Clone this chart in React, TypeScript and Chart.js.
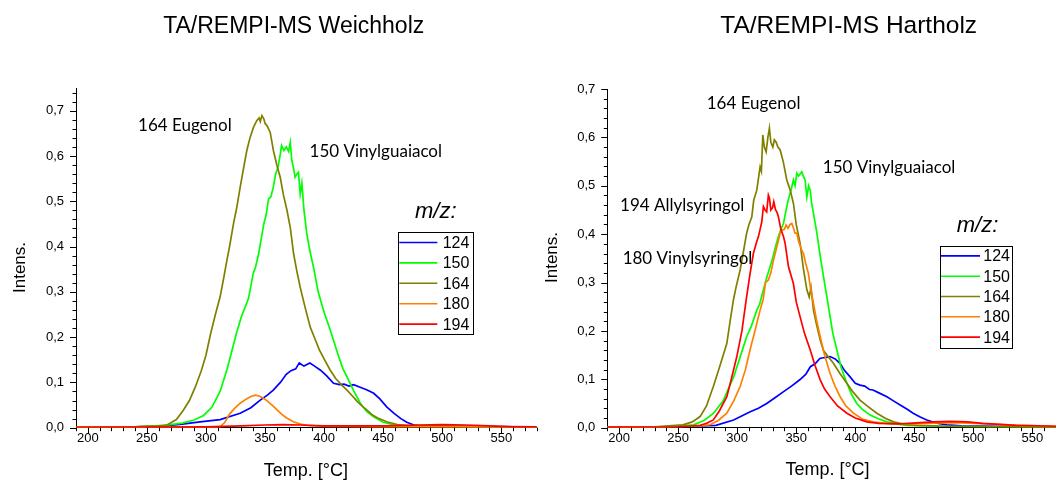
import React, { useEffect, useRef } from "react";
import { Chart, registerables } from "chart.js";

Chart.register(...registerables);

const SANS = "'Liberation Sans', Arial, Helvetica, sans-serif";
const ANN_FONT = "Lato, 'Open Sans', sans-serif";

// ---------- shared ----------
const massLabels = ["124", "150", "164", "180", "194"];
const seriesColors = ["#0000FF", "#00FF00", "#808000", "#FF8000", "#FF0000"];
const xTickLabels = [200, 250, 300, 350, 400, 450, 500, 550];
const yTickValues = [0, 0.1, 0.2, 0.3, 0.4, 0.5, 0.6, 0.7];

// ---------- Weichholz (softwood) ----------
const soft124T = [190, 240, 265, 280, 295, 312, 329, 338, 346, 352, 357, 363, 368, 372, 376, 379, 383, 388, 392, 397, 402, 408, 413, 417, 421, 425, 430, 436, 442, 447, 453, 459, 465, 470, 476, 485, 520, 580];
const soft124V = [0.001, 0.002, 0.004, 0.008, 0.013, 0.018, 0.032, 0.044, 0.061, 0.072, 0.083, 0.1, 0.118, 0.126, 0.13, 0.143, 0.136, 0.143, 0.136, 0.127, 0.115, 0.098, 0.095, 0.096, 0.092, 0.095, 0.09, 0.084, 0.076, 0.064, 0.046, 0.032, 0.02, 0.012, 0.006, 0.003, 0.003, 0.002];

const soft150T = [190, 240, 265, 280, 290, 298, 305, 312, 318, 322, 326, 330, 333, 336, 340, 342, 344.6, 347, 349, 351, 353, 355, 357, 359, 361, 363, 364, 366, 368, 370, 371.4, 372.7, 374, 375.5, 377, 378.3, 379.8, 381.2, 383, 385.4, 388, 391, 395, 400, 404, 408, 412, 416, 419.4, 425, 430.7, 436, 442, 450, 460, 475, 500, 540, 580];
const soft150V = [0.001, 0.002, 0.005, 0.01, 0.017, 0.027, 0.045, 0.08, 0.13, 0.17, 0.21, 0.245, 0.265, 0.285, 0.34, 0.355, 0.384, 0.42, 0.45, 0.47, 0.505, 0.51, 0.531, 0.56, 0.575, 0.605, 0.623, 0.612, 0.62, 0.61, 0.63, 0.59, 0.575, 0.553, 0.56, 0.564, 0.516, 0.54, 0.48, 0.428, 0.39, 0.355, 0.3, 0.255, 0.225, 0.193, 0.16, 0.13, 0.112, 0.082, 0.054, 0.036, 0.024, 0.012, 0.006, 0.004, 0.004, 0.002, 0.001];

const soft164T = [190, 240, 260, 267, 275, 281, 286, 291, 296, 300, 304, 308, 312, 315, 317.7, 320, 323.3, 326, 329, 332, 334.6, 337.4, 340.2, 343, 345, 346, 347.4, 349, 350, 351.6, 353, 354.4, 357.2, 360, 362.9, 365.5, 368.6, 371.5, 374.2, 377, 379.8, 384, 388.3, 392, 396, 400, 405, 410, 415, 419.4, 424, 428, 432, 436.4, 441, 445, 453, 462, 470, 490, 530, 580];
const soft164V = [0.001, 0.002, 0.004, 0.006, 0.018, 0.039, 0.06, 0.09, 0.125, 0.16, 0.208, 0.25, 0.289, 0.33, 0.369, 0.4, 0.45, 0.485, 0.531, 0.575, 0.612, 0.641, 0.663, 0.678, 0.684, 0.676, 0.689, 0.682, 0.672, 0.667, 0.66, 0.652, 0.611, 0.58, 0.553, 0.515, 0.48, 0.44, 0.384, 0.345, 0.31, 0.265, 0.222, 0.198, 0.172, 0.152, 0.128, 0.108, 0.094, 0.083, 0.07, 0.058, 0.048, 0.039, 0.028, 0.022, 0.013, 0.007, 0.004, 0.003, 0.002, 0.001];

const soft180T = [190, 300, 312, 316, 320, 324, 329, 334, 338, 341.7, 345, 348, 351, 356, 360, 364, 368, 374, 380, 386, 400, 450, 580];
const soft180V = [0.001, 0.001, 0.002, 0.012, 0.03, 0.042, 0.054, 0.063, 0.069, 0.072, 0.07, 0.066, 0.061, 0.05, 0.04, 0.03, 0.022, 0.013, 0.008, 0.005, 0.003, 0.002, 0.002];

const soft194T = [190, 300, 330, 350, 365, 380, 400, 450, 480, 500, 520, 540, 560, 580];
const soft194V = [0.001, 0.002, 0.004, 0.006, 0.007, 0.006, 0.004, 0.004, 0.006, 0.007, 0.006, 0.004, 0.002, 0.002];

// ---------- Hartholz (hardwood) ----------
const hard124T = [190, 240, 263, 282, 297, 311, 318, 325, 332, 339, 346, 353, 358, 362, 366, 370, 374, 378.7, 383, 387, 391, 395.6, 400, 404, 408, 412, 415, 420, 426.8, 432, 438, 444, 449, 455, 460.6, 468, 477.6, 490, 520, 570];
const hard124V = [0.001, 0.002, 0.003, 0.005, 0.016, 0.033, 0.04, 0.05, 0.062, 0.074, 0.086, 0.099, 0.11, 0.126, 0.132, 0.143, 0.145, 0.147, 0.142, 0.133, 0.118, 0.105, 0.092, 0.088, 0.086, 0.079, 0.078, 0.072, 0.064, 0.056, 0.047, 0.038, 0.03, 0.022, 0.016, 0.01, 0.006, 0.004, 0.003, 0.002];

const hard150T = [190, 240, 263, 272, 280, 288, 297, 303, 308, 312, 316.6, 319, 322.2, 325, 327.9, 330, 332, 334.9, 337, 339.2, 341, 343, 344.8, 346, 347.6, 349, 350.5, 352, 354.7, 356, 357.5, 359, 360.5, 361.8, 363, 364.6, 367.5, 370, 373.1, 376, 378.7, 381, 384.4, 388, 392.9, 397, 401.3, 406, 412.6, 420, 426.7, 435, 443, 470, 520, 570];
const hard150V = [0.001, 0.002, 0.006, 0.015, 0.03, 0.055, 0.105, 0.15, 0.188, 0.21, 0.243, 0.255, 0.285, 0.31, 0.333, 0.35, 0.37, 0.395, 0.41, 0.422, 0.445, 0.468, 0.484, 0.495, 0.512, 0.5, 0.526, 0.52, 0.529, 0.52, 0.512, 0.477, 0.5, 0.491, 0.465, 0.443, 0.402, 0.36, 0.312, 0.27, 0.229, 0.195, 0.161, 0.125, 0.092, 0.068, 0.05, 0.038, 0.026, 0.018, 0.012, 0.008, 0.005, 0.003, 0.002, 0.001];

const hard164T = [190, 230, 254, 262, 268.6, 274, 279.8, 285, 291.2, 294, 296.8, 299, 302.5, 305, 308, 310, 312.4, 314, 316.6, 319.4, 320.5, 321.7, 323, 324.5, 326, 327.3, 328.5, 330.2, 331.5, 333, 334.5, 336.4, 339, 342, 345, 347.6, 350, 353.3, 356, 359, 361, 362.5, 364.6, 367, 370.3, 373, 376, 381.5, 387, 392.9, 398, 404, 410, 418.3, 425, 432.4, 442, 452, 480, 520, 570];
const hard164V = [0.001, 0.002, 0.006, 0.012, 0.023, 0.045, 0.085, 0.125, 0.174, 0.22, 0.264, 0.29, 0.326, 0.36, 0.402, 0.42, 0.436, 0.47, 0.491, 0.539, 0.53, 0.605, 0.58, 0.57, 0.6, 0.619, 0.59, 0.58, 0.595, 0.59, 0.58, 0.574, 0.55, 0.512, 0.49, 0.464, 0.42, 0.381, 0.33, 0.285, 0.27, 0.29, 0.243, 0.215, 0.181, 0.16, 0.15, 0.133, 0.112, 0.092, 0.074, 0.057, 0.045, 0.03, 0.02, 0.012, 0.007, 0.005, 0.003, 0.002, 0.001];

const hard180T = [190, 250, 270, 277, 284, 291.2, 297, 302.5, 307, 310.9, 315, 319.4, 322, 324, 326.4, 328.5, 330.7, 333.6, 336.4, 337.8, 340, 341.4, 343, 344.8, 346.3, 348, 349, 350.5, 352, 354.7, 356.1, 358, 360.3, 362, 364.6, 367, 370.3, 374, 378.7, 383, 387.2, 392, 398.5, 406, 415, 430, 450, 470, 490, 510, 540, 570];
const hard180V = [0.001, 0.002, 0.004, 0.006, 0.015, 0.03, 0.055, 0.085, 0.12, 0.161, 0.2, 0.243, 0.265, 0.3, 0.305, 0.32, 0.346, 0.374, 0.402, 0.408, 0.41, 0.419, 0.412, 0.42, 0.422, 0.41, 0.402, 0.402, 0.385, 0.367, 0.36, 0.34, 0.319, 0.29, 0.257, 0.225, 0.188, 0.15, 0.112, 0.085, 0.064, 0.045, 0.03, 0.018, 0.012, 0.008, 0.008, 0.01, 0.01, 0.008, 0.005, 0.003];

const hard194T = [190, 250, 268.6, 274, 279.8, 285, 291.2, 295, 299.7, 304, 308, 311, 313.7, 316, 318, 319.4, 320.8, 322.2, 323.6, 325, 326.4, 327.3, 328.5, 330, 331, 332.5, 333.6, 334.9, 337, 339.2, 340.6, 343.4, 347.6, 350, 353.3, 357, 361.8, 366, 370.3, 374, 378.7, 385, 392.9, 400, 409.8, 420, 438, 452, 466, 480, 495, 508, 522, 536, 555, 570];
const hard194V = [0.001, 0.002, 0.005, 0.009, 0.016, 0.035, 0.064, 0.1, 0.147, 0.2, 0.271, 0.32, 0.36, 0.38, 0.395, 0.41, 0.425, 0.457, 0.45, 0.446, 0.481, 0.475, 0.45, 0.455, 0.467, 0.45, 0.446, 0.436, 0.41, 0.395, 0.381, 0.333, 0.298, 0.26, 0.229, 0.195, 0.161, 0.128, 0.099, 0.08, 0.064, 0.045, 0.03, 0.02, 0.012, 0.009, 0.008, 0.01, 0.012, 0.013, 0.012, 0.009, 0.007, 0.005, 0.004, 0.003];

// annotation labels: [text, temperature, intensity] (left baseline anchor)
const softAnnotations: [string, number, number][] = [
  ["164 Eugenol", 242.5, 0.656],
  ["150 Vinylguaiacol", 387.7, 0.598],
];
const hardAnnotations: [string, number, number][] = [
  ["164 Eugenol", 274.2, 0.658],
  ["150 Vinylguaiacol", 372.5, 0.5256],
  ["194 Allylsyringol", 200.8, 0.448],
  ["180 Vinylsyringol", 203, 0.338],
];

type Panel = {
  left: number;
  width: number;
  title: string;
  titleX: number;
  titleSize: number;
  yLabelX: number;
  yLabelY: number;
  xLabelX: number;
  xLabelY: number;
  xMin: number;
  xMax: number;
  yMax: number;
  padTop: number;
  padRight: number;
  yAxisW: number;
  xAxisH: number;
  legendBox: [number, number, number, number];
  legendLine: [number, number];
  legendTextX: number;
  mzX: number;
  mzY: number;
  series: [number[], number[]][];
  annotations: [string, number, number][];
};

const panels: Panel[] = [
  {
    left: 0,
    width: 540,
    title: "TA/REMPI-MS Weichholz",
    titleX: 293.7,
    titleSize: 23,
    yLabelX: 20,
    yLabelY: 267.5,
    xLabelX: 305.8,
    xLabelY: 476,
    xMin: 190,
    xMax: 580,
    yMax: 0.75,
    padTop: 88,
    padRight: 3.3,
    yAxisW: 76,
    xAxisH: 52.3,
    legendBox: [397.7, 232.3, 74.6, 102],
    legendLine: [399.3, 437.3],
    legendTextX: 442.7,
    mzX: 415,
    mzY: 218,
    series: [
      [soft124T, soft124V],
      [soft150T, soft150V],
      [soft164T, soft164V],
      [soft180T, soft180V],
      [soft194T, soft194V],
    ],
    annotations: softAnnotations,
  },
  {
    left: 540,
    width: 516,
    title: "TA/REMPI-MS Hartholz",
    titleX: 308.7,
    titleSize: 24.5,
    yLabelX: 12,
    yLabelY: 257.5,
    xLabelX: 287.5,
    xLabelY: 475,
    xMin: 190,
    xMax: 570,
    yMax: 0.7,
    padTop: 89,
    padRight: 0,
    yAxisW: 67.3,
    xAxisH: 52.3,
    legendBox: [400, 245.7, 72.3, 101.6],
    legendLine: [401, 440],
    legendTextX: 443.3,
    mzX: 416.7,
    mzY: 231.7,
    series: [
      [hard124T, hard124V],
      [hard150T, hard150V],
      [hard164T, hard164V],
      [hard180T, hard180V],
      [hard194T, hard194V],
    ],
    annotations: hardAnnotations,
  },
];

function makeDecoPlugin(p: Panel) {
  return {
    id: "deco",
    afterDraw(chart: any) {
      const ctx: CanvasRenderingContext2D = chart.ctx;
      const xs = chart.scales.x;
      const ys = chart.scales.y;
      const area = chart.chartArea;
      ctx.save();
      // tick marks (major + minor)
      ctx.strokeStyle = "#000";
      ctx.lineWidth = 1;
      ctx.beginPath();
      for (let t = p.xMin; t <= p.xMax + 0.001; t += 10) {
        const px = Math.round(xs.getPixelForValue(t)) + 0.5;
        const len = t % 50 === 0 ? 6 : 3.5;
        ctx.moveTo(px, area.bottom);
        ctx.lineTo(px, area.bottom + len);
      }
      for (let i = 0; i * 0.02 <= p.yMax + 1e-6; i++) {
        const v = i * 0.02;
        const py = Math.round(ys.getPixelForValue(v)) + 0.5;
        const len = i % 5 === 0 ? 6 : 3.5;
        ctx.moveTo(area.left, py);
        ctx.lineTo(area.left - len, py);
      }
      ctx.stroke();

      ctx.fillStyle = "#000";
      // title
      ctx.font = `${p.titleSize}px ${SANS}`;
      ctx.textAlign = "center";
      ctx.textBaseline = "alphabetic";
      ctx.fillText(p.title, p.titleX, 33.3);
      // x axis title
      ctx.font = `18px ${SANS}`;
      ctx.fillText("Temp. [°C]", p.xLabelX, p.xLabelY);
      // y axis title
      ctx.save();
      ctx.translate(p.yLabelX, p.yLabelY);
      ctx.rotate(-Math.PI / 2);
      ctx.textBaseline = "middle";
      ctx.font = `17px ${SANS}`;
      ctx.fillText("Intens.", 0, 0);
      ctx.restore();

      // annotations
      ctx.font = `17px ${ANN_FONT}`;
      ctx.textAlign = "left";
      ctx.textBaseline = "alphabetic";
      for (const [txt, t, v] of p.annotations) {
        ctx.fillText(txt, xs.getPixelForValue(t), ys.getPixelForValue(v));
      }

      // legend
      ctx.font = `italic 22px ${SANS}`;
      ctx.fillText("m/z:", p.mzX, p.mzY);
      const [bx, by, bw, bh] = p.legendBox;
      ctx.fillStyle = "#fff";
      ctx.fillRect(bx, by, bw, bh);
      ctx.strokeStyle = "#000";
      ctx.lineWidth = 1;
      ctx.strokeRect(Math.round(bx) + 0.5, Math.round(by) + 0.5, Math.round(bw), Math.round(bh));
      ctx.font = `16px ${SANS}`;
      ctx.textBaseline = "middle";
      const rowH = bh / 5;
      massLabels.forEach((lab, i) => {
        const cy = by + rowH * (i + 0.5);
        ctx.strokeStyle = seriesColors[i];
        ctx.lineWidth = 1.6;
        ctx.beginPath();
        ctx.moveTo(p.legendLine[0], cy);
        ctx.lineTo(p.legendLine[1], cy);
        ctx.stroke();
        ctx.fillStyle = "#000";
        ctx.fillText(lab, p.legendTextX, cy + 1);
      });
      ctx.restore();
    },
  };
}

function PanelChart({ p }: { p: Panel }) {
  const ref = useRef<HTMLCanvasElement | null>(null);
  useEffect(() => {
    if (!ref.current) return;
    const datasets = p.series.map(([T, V], i) => ({
      label: massLabels[i],
      data: T.map((t, j) => ({ x: t, y: V[j] })),
      borderColor: seriesColors[i],
      backgroundColor: seriesColors[i],
      borderWidth: 1.7,
      pointRadius: 0,
      tension: 0,
      fill: false,
      order: 4 - i,
    }));
    const chart = new Chart(ref.current, {
      type: "line",
      data: { datasets },
      options: {
        responsive: false,
        animation: false,
        devicePixelRatio: 1,
        parsing: false as any,
        layout: { padding: { left: 0, right: p.padRight, top: p.padTop, bottom: 0 } },
        plugins: {
          legend: { display: false },
          tooltip: { enabled: false },
          title: { display: false },
        },
        scales: {
          x: {
            type: "linear",
            min: p.xMin,
            max: p.xMax,
            afterFit: (s: any) => {
              s.height = p.xAxisH;
            },
            afterBuildTicks: (s: any) => {
              s.ticks = xTickLabels.map((v) => ({ value: v }));
            },
            ticks: {
              color: "#000",
              font: { family: SANS, size: 13 },
              padding: 3,
              maxRotation: 0,
              autoSkip: false,
              callback: (v: any) => String(v),
            },
            grid: { display: false, drawTicks: false },
            border: { display: true, color: "#000", width: 1 },
          },
          y: {
            type: "linear",
            min: 0,
            max: p.yMax,
            afterFit: (s: any) => {
              s.width = p.yAxisW;
            },
            afterBuildTicks: (s: any) => {
              s.ticks = yTickValues.map((v) => ({ value: v }));
            },
            ticks: {
              color: "#000",
              font: { family: SANS, size: 13 },
              padding: 12,
              autoSkip: false,
              callback: (v: any) => Number(v).toFixed(1).replace(".", ","),
            },
            grid: { display: false, drawTicks: false },
            border: { display: true, color: "#000", width: 1 },
          },
        },
      } as any,
      plugins: [makeDecoPlugin(p)],
    });
    return () => chart.destroy();
  }, [p]);
  return (
    <canvas
      ref={ref}
      width={p.width}
      height={480}
      style={{ position: "absolute", left: p.left, top: 0, width: p.width, height: 480 }}
    />
  );
}

export default function App() {
  return (
    <div style={{ position: "fixed", left: 0, top: 0, width: 1056, height: 480, background: "#fff", overflow: "hidden" }}>
      {panels.map((p, i) => (
        <PanelChart key={i} p={p} />
      ))}
    </div>
  );
}
